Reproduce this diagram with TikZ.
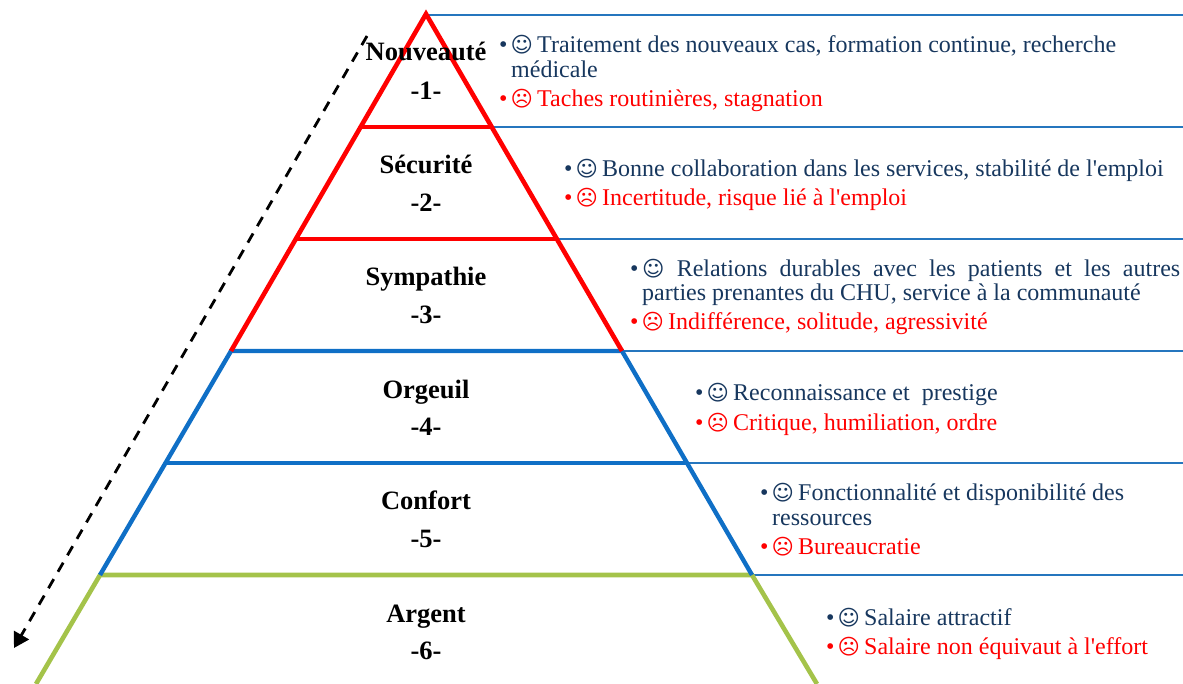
\documentclass[tikz,border=0pt]{standalone}
\usepackage{fontspec}
\setmainfont{Liberation Serif}[Ligatures=TeXOff]
\newfontfamily\symfont{DejaVu Sans}
\usetikzlibrary{arrows.meta}
\definecolor{edgeblue}{HTML}{0F6FC6}
\definecolor{ruleblue}{HTML}{2576BE}
\definecolor{edgegreen}{HTML}{A4C34A}
\definecolor{posblue}{HTML}{17375E}
\definecolor{negred}{HTML}{FF0000}
\newcommand{\smi}{\makebox[12pt][l]{•}\makebox[26pt][l]{\hspace{-0.5pt}\symfont\fontsize{21.5pt}{20pt}\selectfont ☺}}
\newcommand{\fro}{\makebox[12pt][l]{•}\makebox[26pt][l]{\hspace{-0.5pt}\symfont\fontsize{21.5pt}{20pt}\selectfont ☹}}
\tikzset{
  x=1pt,y=-1pt,
  leveltext/.style={font=\fontsize{26.5pt}{28pt}\selectfont\bfseries,anchor=base,inner sep=0pt,text=black},
  postext/.style={font=\fontsize{24pt}{26pt}\selectfont,anchor=base west,inner sep=0pt,text=posblue},
  negtext/.style={font=\fontsize{24pt}{26pt}\selectfont,anchor=base west,inner sep=0pt,text=negred},
  redline/.style={draw=red,line width=4.6pt,line join=miter},
  blueline/.style={draw=edgeblue,line width=4.4pt},
  greenline/.style={draw=edgegreen,line width=4.6pt},
  rulerline/.style={draw=ruleblue,line width=2.8pt},
  flowline/.style={draw=black,line width=2.8pt,dash pattern=on 10.5pt off 8.5pt,-{Triangle[length=15pt,width=17pt]}}
}
\begin{document}
\begin{tikzpicture}
\useasboundingbox (0,0) rectangle (1183,684);
\coordinate (apex) at (426,14);
\coordinate (l1) at (361,127); \coordinate (r1) at (491,127);
\coordinate (l2) at (296,239); \coordinate (r2) at (557,239);
\coordinate (l3) at (231,351); \coordinate (r3) at (622,351);
\coordinate (l4) at (165,463); \coordinate (r4) at (687,463);
\coordinate (l5) at (100,575); \coordinate (r5) at (752,575);
\coordinate (l6) at (36,684);  \coordinate (r6) at (817,684);
\coordinate (e0) at (1183,15); \coordinate (e1) at (1183,127);
\coordinate (e2) at (1183,239); \coordinate (e3) at (1183,351);
\coordinate (e4) at (1183,463); \coordinate (e5) at (1183,575);
\coordinate (s0) at (426,15);
\coordinate (fa) at (367,36); \coordinate (fb) at (14,648);
% rules
\draw[rulerline] (s0) -- (e0);
\draw[rulerline] (r1) -- (e1);
\draw[rulerline] (r2) -- (e2);
\draw[rulerline] (r3) -- (e3);
\draw[rulerline] (r4) -- (e4);
\draw[rulerline] (r5) -- (e5);
% flow arrow
\draw[flowline] (fa) -- (fb);
% pyramid
\draw[greenline] (l6) -- (l5) -- (r5) -- (r6);
\draw[blueline] (l5) -- (l3) -- (r3) -- (r5);
\draw[blueline] (l4) -- (r4);
\draw[redline] (l3) -- (apex) -- (r3);
\draw[redline] (l1) -- (r1);
\draw[redline] (l2) -- (r2);
% levels
\node[leveltext] (n1) at (426,61) {Nouveauté};
\node[leveltext] (m1) at (426,100) {-1-};
\node[leveltext] (n2) at (426,174) {Sécurité};
\node[leveltext] (m2) at (426,212) {-2-};
\node[leveltext] (n3) at (426,286) {Sympathie};
\node[leveltext] (m3) at (426,324) {-3-};
\node[leveltext] (n4) at (426,398) {Orgeuil};
\node[leveltext] (m4) at (426,435) {-4-};
\node[leveltext] (n5) at (426,509) {Confort};
\node[leveltext] (m5) at (426,547) {-5-};
\node[leveltext] (n6) at (426,622) {Argent};
\node[leveltext] (m6) at (426,659) {-6-};
% texts
\node[postext] (a1) at (499,53) {\smi Traitement des nouveaux cas, formation continue, recherche};
\node[postext] (a1b) at (511,78) {médicale};
\node[negtext] (b1) at (499,107) {\fro Taches routinières, stagnation};
\node[postext] (a2) at (564,177) {\smi Bonne collaboration dans les services, stabilité de l'emploi};
\node[negtext] (b2) at (564,206) {\fro Incertitude, risque lié à l'emploi};
\node[postext] (a3) at (630,277) {\makebox[550pt][s]{\makebox[12pt][l]{•}{\symfont\fontsize{21.5pt}{20pt}\selectfont ☺} Relations durables avec les patients et les autres}};
\node[postext] (a3b) at (642,301) {parties prenantes du CHU, service à la communauté};
\node[negtext] (b3) at (630,330) {\fro Indifférence, solitude, agressivité};
\node[postext] (a4) at (695,400) {\smi Reconnaissance et\ \ prestige};
\node[negtext] (b4) at (695,430) {\fro Critique, humiliation, ordre};
\node[postext] (a5) at (760,500) {\smi Fonctionnalité et disponibilité des};
\node[postext] (a5b) at (772,525) {ressources};
\node[negtext] (b5) at (760,554) {\fro Bureaucratie};
\node[postext] (a6) at (826,625) {\smi Salaire attractif};
\node[negtext] (b6) at (826,654) {\fro Salaire non équivaut à l'effort};
\end{tikzpicture}
\end{document}
